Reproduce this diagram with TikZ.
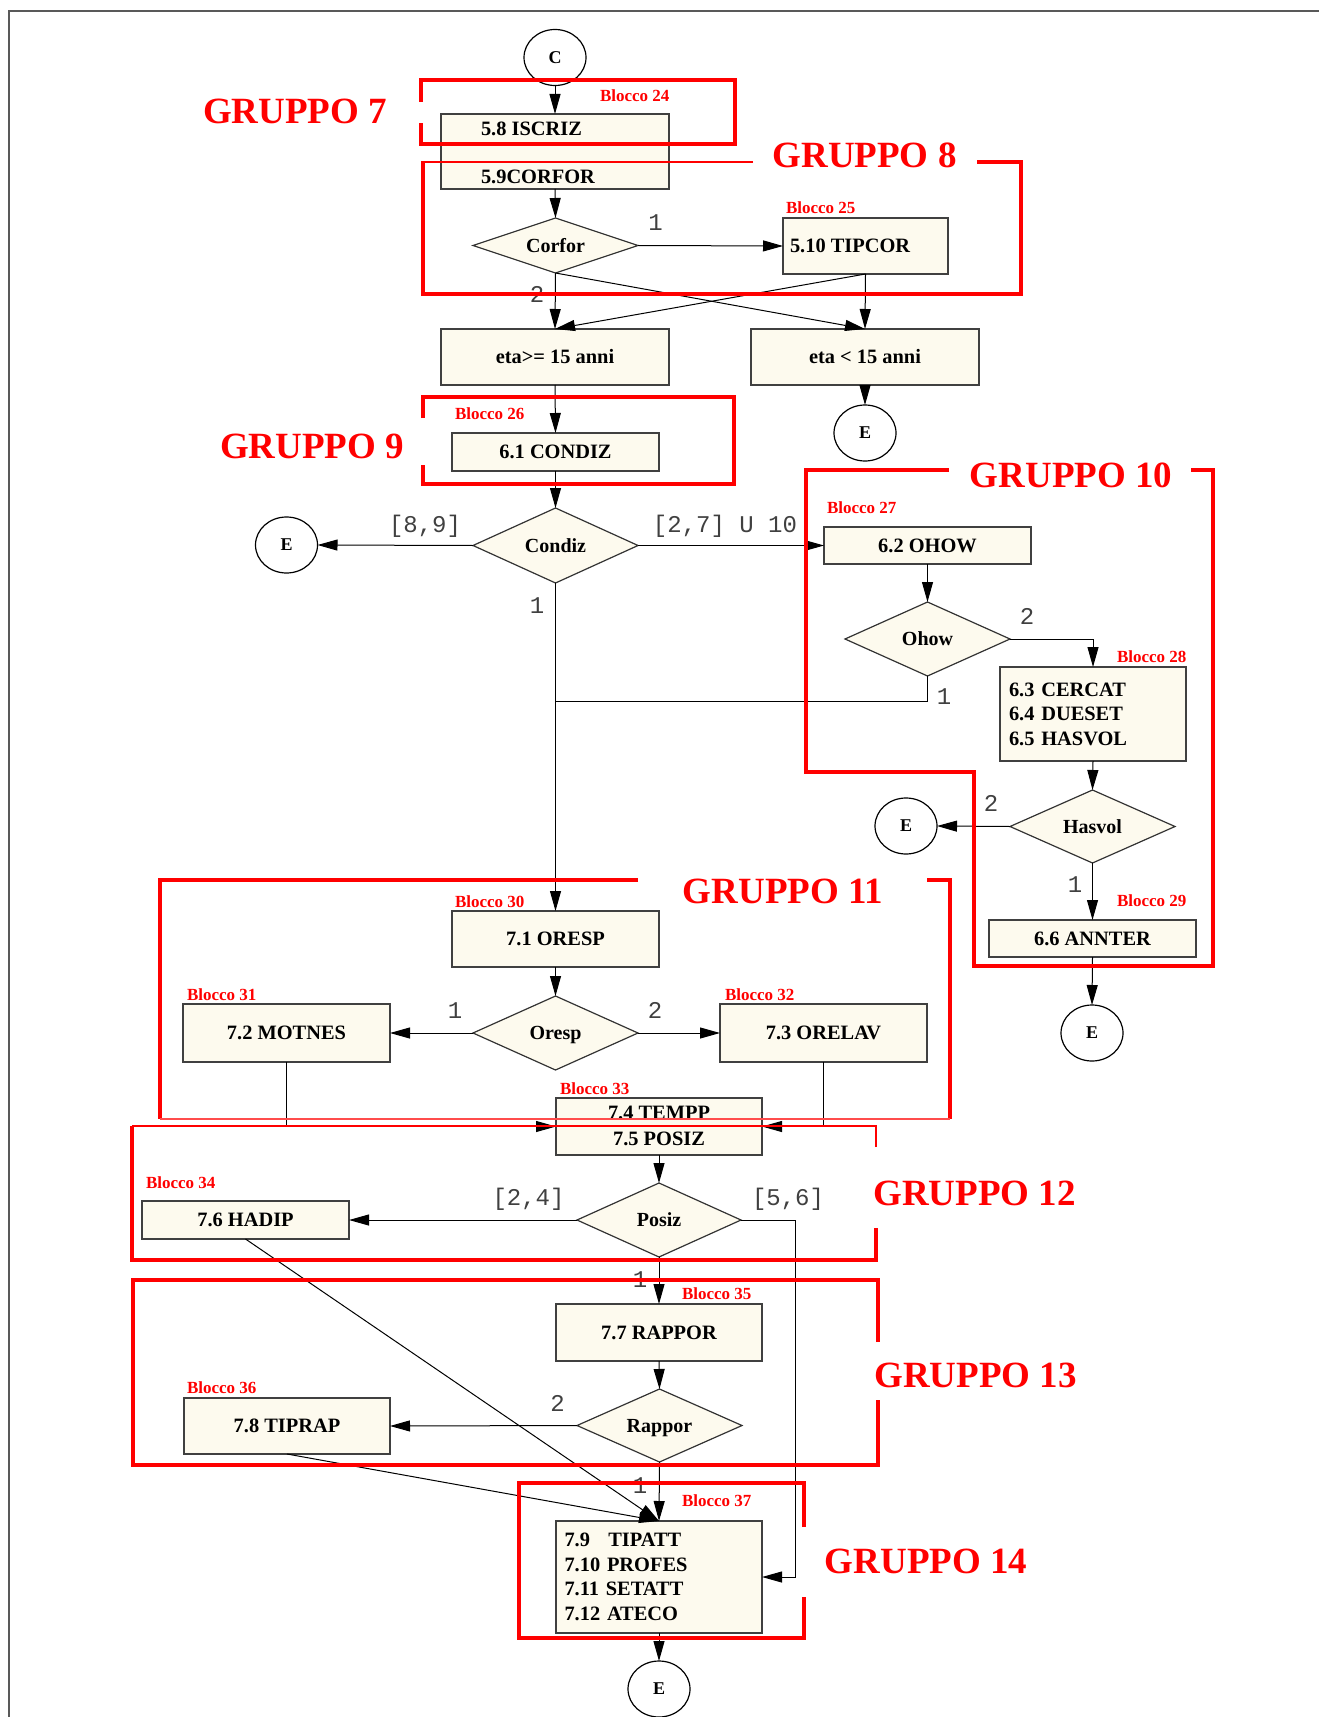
\documentclass[tikz,border=0pt]{standalone}
\usepackage{fontspec}
\setmainfont{Liberation Serif}
\newfontfamily\lblmono{Liberation Mono}
\usetikzlibrary{arrows.meta,shapes.geometric}
\definecolor{boxfill}{RGB}{253,250,238}
\definecolor{grpred}{RGB}{255,0,0}
\begin{document}
\begin{tikzpicture}[x=0.5pt,y=-0.5pt,
  every node/.style={inner sep=0pt, outer sep=0pt},
  blk/.style={rectangle, draw=black!75, line width=0.6pt, fill=boxfill,
    font=\bfseries\fontsize{10.2}{12.25}\selectfont},
  btxt/.style={font=\bfseries\fontsize{10.2}{12.25}\selectfont},
  cond/.style={diamond, aspect=2.2, draw=black!80, line width=0.6pt, fill=boxfill,
    font=\bfseries\fontsize{10}{12}\selectfont, text height=0.68em, text depth=0pt},
  term/.style={ellipse, draw=black, line width=0.6pt, fill=white,
    minimum width=31pt, minimum height=28pt, font=\bfseries\fontsize{9}{10}\selectfont},
  arr/.style={draw=black, line width=0.5pt, -{Triangle[length=10pt,width=5.5pt]}},
  ln/.style={draw=black, line width=0.5pt},
  branch/.style={font=\lblmono\fontsize{12}{12}\selectfont, text=black!75,
    text height=0.6em, text depth=0pt},
  blocco/.style={anchor=west, text=grpred, font=\bfseries\fontsize{8.5}{10}\selectfont},
  gruppo/.style={text=grpred, font=\bfseries\fontsize{18.5}{20}\selectfont},
  grp/.style={draw=grpred, line width=2.3pt, line join=miter, line cap=butt},
  grpthin/.style={draw=grpred, line width=1.2pt, line join=miter, line cap=butt},
  grphair/.style={draw=grpred, line width=0.8pt, line join=miter, line cap=butt},
]
\useasboundingbox (0,0) rectangle (1319,1717);

% page frame
\draw[black!65, line width=1pt] (9,1717) -- (9,11) -- (1319,11);

% ---------- nodes ----------
\node[term] (c) at (555,57.5) {C};

\node[blk, minimum width=114pt, minimum height=37.5pt] (iscr) at (555,151.5) {};
\begin{scope}
  \clip (441,122) rectangle (669,189);
  \node[btxt, anchor=west] (iscrtxt) at (481,129) {5.8 ISCRIZ};
\end{scope}
\node[btxt, anchor=west] (corftxt) at (481,177) {5.9CORFOR};

\node[cond, aspect=3, minimum width=82.5pt, minimum height=27.5pt] (corfor) at (555.5,245.5) {Corfor};
\node[blk, minimum width=82.5pt, minimum height=28pt] (tipcor) at (865.5,246) {};
\node[btxt, anchor=west] (tipcortxt) at (790,246) {5.10 TIPCOR};

\node[blk, minimum width=114pt, minimum height=28pt] (etage) at (555,357) {eta>= 15 anni};
\node[blk, minimum width=114pt, minimum height=28pt] (etalt) at (865,357) {eta < 15 anni};
\node[term] (e1) at (865,433) {E};

\node[blk, minimum width=103.5pt, minimum height=19pt] (condiz) at (555.5,452) {6.1 CONDIZ};
\node[cond, minimum width=82.5pt, minimum height=37.5pt] (condizd) at (555.5,545.5) {Condiz};
\node[term] (e2) at (286.5,545) {E};

\node[blk, minimum width=103.5pt, minimum height=18.5pt] (ohow) at (927.5,545.5) {6.2 OHOW};
\node[cond, minimum width=82.5pt, minimum height=37pt] (ohowd) at (927.5,639) {Ohow};
\node[blk, minimum width=93pt, minimum height=47pt, align=left, text width=84pt,
  inner xsep=4.5pt] (cercat) at (1093,714) {6.3 CERCAT\\6.4 DUESET\\6.5 HASVOL};
\node[cond, minimum width=82.5pt, minimum height=36.5pt] (hasvol) at (1092.5,826.5) {Hasvol};
\node[term] (e3) at (906,826) {E};
\node[blk, minimum width=103.5pt, minimum height=18.5pt] (annter) at (1092.5,938.5) {6.6 ANNTER};
\node[term] (e4) at (1092,1033) {E};

\node[blk, minimum width=103.5pt, minimum height=28pt] (oresp) at (555.5,939) {7.1 ORESP};
\node[cond, minimum width=82.5pt, minimum height=37pt] (orespd) at (555.5,1033) {Oresp};
\node[blk, minimum width=103.5pt, minimum height=29pt] (motnes) at (286.5,1033) {7.2 MOTNES};
\node[blk, minimum width=103.5pt, minimum height=29pt] (orelav) at (823.5,1033) {7.3 ORELAV};

\node[blk, minimum width=103pt, minimum height=28.5pt] (tempp) at (659,1126.5) {};
\node[btxt] (tempptxt) at (659,1113) {7.4 TEMPP};
\node[btxt] (posiztxt) at (659,1139) {7.5 POSIZ};

\node[cond, minimum width=82pt, minimum height=37pt] (posiz) at (659,1220) {Posiz};
\node[blk, minimum width=103.5pt, minimum height=19pt] (hadip) at (245.5,1220) {7.6 HADIP};

\node[blk, minimum width=103pt, minimum height=28.5pt] (rappor) at (659,1332.5) {7.7 RAPPOR};
\node[cond, minimum width=82.5pt, minimum height=36.5pt] (rapd) at (659.5,1425.5) {Rappor};
\node[blk, minimum width=103pt, minimum height=28pt] (tiprap) at (287,1426) {7.8 TIPRAP};

\node[blk, minimum width=103pt, minimum height=56pt, align=left, text width=94.5pt,
  inner xsep=4.25pt] (tipatt) at (659,1577)
  {7.9\hspace{0.9em}TIPATT\\7.10 PROFES\\7.11 SETATT\\7.12 ATECO};
\node[term] (e5) at (659,1689) {E};

% ---------- connectors ----------
\draw[arr] (c.south) -- (iscr.north);
\draw[arr] (iscr.south) -- (corfor.north);
\draw[arr] (corfor.east) -- (tipcor.west);
\draw[arr] (corfor.south) -- (etage.north);
\draw[arr] (corfor.south) -- (etalt.north);
\draw[arr] (tipcor.south) -- (etalt.north);
\draw[arr] (tipcor.south) -- (etage.north);
\draw[arr] (etalt.south) -- (e1.north);
\draw[arr] (etage.south) -- (condiz.north);
\draw[arr] (condiz.south) -- (condizd.north);
\draw[arr] (condizd.west) -- (e2.east);
\draw[arr] (condizd.east) -- (ohow.west);
\draw[arr] (condizd.south) -- (oresp.north);
\draw[arr] (ohow.south) -- (ohowd.north);
\draw[arr] (ohowd.east) -| (cercat.north);
\coordinate (join) at (555,701);
\draw[ln] (ohowd.south) |- (join);
\draw[arr] (cercat.south) -- (hasvol.north);
\draw[arr] (hasvol.west) -- (e3.east);
\draw[arr] (hasvol.south) -- (annter.north);
\draw[arr] (annter.south) -- (e4.north);
\draw[arr] (oresp.south) -- (orespd.north);
\draw[arr] (orespd.west) -- (motnes.east);
\draw[arr] (orespd.east) -- (orelav.west);
\draw[arr] (motnes.south) |- (tempp.west);
\draw[arr] (orelav.south) |- (tempp.east);
\draw[arr] (tempp.south) -- (posiz.north);
\draw[arr] (posiz.west) -- (hadip.east);
\coordinate (pzr) at (795,1220);
\draw[arr] (posiz.east) -- (pzr) |- (tipatt.east);
\draw[arr] (posiz.south) -- (rappor.north);
\draw[arr] (hadip.south) -- (tipatt.north);
\draw[arr] (rappor.south) -- (rapd.north);
\draw[arr] (rapd.west) -- (tiprap.east);
\draw[arr] (rapd.south) -- (tipatt.north);
\draw[arr] (tiprap.south) -- (tipatt.north);
\draw[arr] (tipatt.south) -- (e5.north);

% ---------- branch values ----------
\node[branch] (v1) at (655.5,225) {1};
\node[branch] (v2) at (537,297) {2};
\node[branch] (v3) at (425,526) {[8,9]};
\node[branch] (v4) at (725,526) {[2,7] U 10};
\node[branch] (v5) at (537,607) {1};
\node[branch] (v6) at (1027,618) {2};
\node[branch] (v7) at (944,698) {1};
\node[branch] (v8) at (991,805) {2};
\node[branch] (v9) at (1075,886) {1};
\node[branch] (v10) at (455,1012) {1};
\node[branch] (v11) at (655,1012) {2};
\node[branch] (v12) at (528.5,1199) {[2,4]};
\node[branch] (v13) at (788,1199) {[5,6]};
\node[branch] (v14) at (640,1281) {1};
\node[branch] (v15) at (557.5,1405) {2};
\node[branch] (v16) at (640,1487) {1};

% ---------- block numbers ----------
\node[blocco] (b24) at (600,96) {Blocco 24};
\node[blocco] (b25) at (786,208) {Blocco 25};
\node[blocco] (b26) at (455,414) {Blocco 26};
\node[blocco] (b27) at (827,508) {Blocco 27};
\node[blocco] (b28) at (1117,657) {Blocco 28};
\node[blocco] (b29) at (1117,901) {Blocco 29};
\node[blocco] (b30) at (455,902) {Blocco 30};
\node[blocco] (b31) at (187,995) {Blocco 31};
\node[blocco] (b32) at (725,995) {Blocco 32};
\node[blocco] (b33) at (560,1089) {Blocco 33};
\node[blocco] (b34) at (146,1183) {Blocco 34};
\node[blocco] (b35) at (682,1294) {Blocco 35};
\node[blocco] (b36) at (187,1388) {Blocco 36};
\node[blocco] (b37) at (682,1501) {Blocco 37};

% ---------- group frames ----------
\draw[grp] (421,102) -- (421,80) -- (735,80) -- (735,144) -- (421,144) -- (421,123);
\draw[grpthin] (753,162) -- (423,162);
\draw[grp] (423,161.4) -- (423,294) -- (1021,294) -- (1021,162) -- (977,162);
\draw[grp] (423,418) -- (423,397) -- (734,397) -- (734,484) -- (423,484) -- (423,465);
\draw[grp] (949,470) -- (806,470) -- (806,772) -- (974,772) -- (974,966) -- (1213,966) -- (1213,470) -- (1191,470);
\draw[grp] (638,880) -- (160,880) -- (160,1119);
\draw[grp] (927,880) -- (950,880) -- (950,1119);
\draw[grphair, draw=grpred!70] (160,1119) -- (950,1119);
\draw[grphair] (876,1147) -- (876,1126) -- (132,1126);
\draw[grp] (132,1125.6) -- (132,1260) -- (876,1260) -- (876,1228);
\draw[grp] (878,1342) -- (878,1280) -- (133,1280) -- (133,1465) -- (878,1465) -- (878,1400);
\draw[grp] (804,1527) -- (804,1483) -- (519,1483) -- (519,1638) -- (804,1638) -- (804,1597);

\node[gruppo] (g7) at (295,111) {GRUPPO 7};
\node[gruppo] (g8) at (864.5,155) {GRUPPO 8};
\node[gruppo] (g9) at (312,446) {GRUPPO 9};
\node[gruppo] (g10) at (1071,475) {GRUPPO 10};
\node[gruppo] (g11) at (783,891) {GRUPPO 11};
\node[gruppo] (g12) at (974.5,1193) {GRUPPO 12};
\node[gruppo] (g13) at (975.5,1375) {GRUPPO 13};
\node[gruppo] (g14) at (926,1561) {GRUPPO 14};
\end{tikzpicture}
\end{document}
